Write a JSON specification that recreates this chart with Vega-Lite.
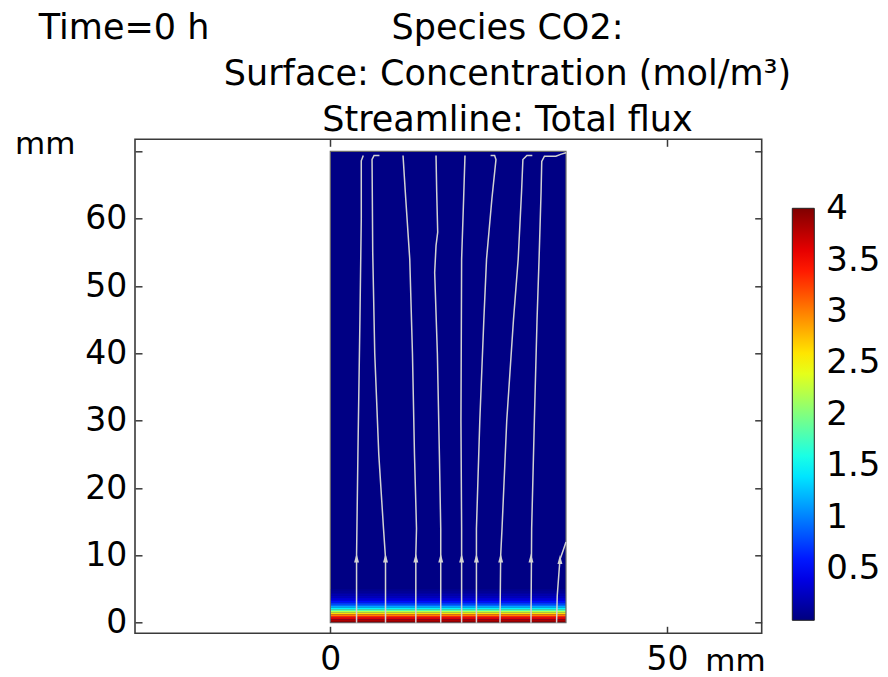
{
  "$schema": "https://vega.github.io/schema/vega-lite/v6.json",
  "autosize": {"type": "none"},
  "padding": {"left": 135, "top": 139.3, "right": 126.3, "bottom": 43.7},
  "width": 626.7,
  "height": 494,
  "background": "white",
  "config": {
    "font": "DejaVu Sans",
    "view": {"stroke": "#3a3a3a", "strokeWidth": 1.6},
    "axis": {
      "domain": false,
      "grid": false,
      "tickSize": -7,
      "tickColor": "#3a3a3a",
      "tickWidth": 1.5,
      "labelFont": "DejaVu Sans",
      "labelFontSize": 33,
      "labelColor": "black",
      "titleFont": "DejaVu Sans",
      "titleFontWeight": "normal",
      "titleColor": "black"
    },
    "legend": {
      "labelFont": "DejaVu Sans",
      "labelFontSize": 34,
      "labelColor": "black"
    }
  },
  "datasets": {
    "cells": [
      {"x0": 0, "x1": 35, "y0": 0, "y1": 70, "c": 0.02, "k": "bg"},
      {"x0": 0, "x1": 35, "y0": 4.75, "y1": 5.0, "c": 0.06, "k": "band"},
      {"x0": 0, "x1": 35, "y0": 4.5, "y1": 4.75, "c": 0.09, "k": "band"},
      {"x0": 0, "x1": 35, "y0": 4.25, "y1": 4.5, "c": 0.13, "k": "band"},
      {"x0": 0, "x1": 35, "y0": 4.0, "y1": 4.25, "c": 0.18, "k": "band"},
      {"x0": 0, "x1": 35, "y0": 3.75, "y1": 4.0, "c": 0.24, "k": "band"},
      {"x0": 0, "x1": 35, "y0": 3.5, "y1": 3.75, "c": 0.32, "k": "band"},
      {"x0": 0, "x1": 35, "y0": 3.25, "y1": 3.5, "c": 0.42, "k": "band"},
      {"x0": 0, "x1": 35, "y0": 3.0, "y1": 3.25, "c": 0.54, "k": "band"},
      {"x0": 0, "x1": 35, "y0": 2.75, "y1": 3.0, "c": 0.7, "k": "band"},
      {"x0": 0, "x1": 35, "y0": 2.5, "y1": 2.75, "c": 0.9, "k": "band"},
      {"x0": 0, "x1": 35, "y0": 2.25, "y1": 2.5, "c": 1.15, "k": "band"},
      {"x0": 0, "x1": 35, "y0": 2.0, "y1": 2.25, "c": 1.46, "k": "band"},
      {"x0": 0, "x1": 35, "y0": 1.75, "y1": 2.0, "c": 1.82, "k": "band"},
      {"x0": 0, "x1": 35, "y0": 1.5, "y1": 1.75, "c": 2.22, "k": "band"},
      {"x0": 0, "x1": 35, "y0": 1.25, "y1": 1.5, "c": 2.62, "k": "band"},
      {"x0": 0, "x1": 35, "y0": 1.0, "y1": 1.25, "c": 3.0, "k": "band"},
      {"x0": 0, "x1": 35, "y0": 0.75, "y1": 1.0, "c": 3.35, "k": "band"},
      {"x0": 0, "x1": 35, "y0": 0.5, "y1": 0.75, "c": 3.62, "k": "band"},
      {"x0": 0, "x1": 35, "y0": 0.25, "y1": 0.5, "c": 3.82, "k": "band"},
      {"x0": 0, "x1": 35, "y0": 0, "y1": 0.25, "c": 3.95, "k": "band"}
    ],
    "streams": [
      {"s": 1, "o": 1, "x": 3.9, "y": 0}, {"s": 1, "o": 2, "x": 3.9, "y": 10}, {"s": 1, "o": 3, "x": 4.1, "y": 25}, {"s": 1, "o": 4, "x": 4.4, "y": 45}, {"s": 1, "o": 5, "x": 4.6, "y": 60}, {"s": 1, "o": 6, "x": 4.6, "y": 68.6}, {"s": 1, "o": 7, "x": 4.9, "y": 69.4},
      {"s": 2, "o": 1, "x": 8.2, "y": 0}, {"s": 2, "o": 2, "x": 8.2, "y": 9.6}, {"s": 2, "o": 3, "x": 7.9, "y": 14}, {"s": 2, "o": 4, "x": 7.2, "y": 25}, {"s": 2, "o": 5, "x": 6.6, "y": 40}, {"s": 2, "o": 6, "x": 6.3, "y": 55}, {"s": 2, "o": 7, "x": 6.2, "y": 68.8}, {"s": 2, "o": 8, "x": 6.5, "y": 69.4}, {"s": 2, "o": 9, "x": 7.3, "y": 69.4},
      {"s": 3, "o": 1, "x": 12.7, "y": 0}, {"s": 3, "o": 2, "x": 12.7, "y": 10}, {"s": 3, "o": 3, "x": 12.8, "y": 14}, {"s": 3, "o": 4, "x": 12.5, "y": 25}, {"s": 3, "o": 5, "x": 12.2, "y": 40}, {"s": 3, "o": 6, "x": 11.8, "y": 54}, {"s": 3, "o": 7, "x": 11.2, "y": 63}, {"s": 3, "o": 8, "x": 10.8, "y": 69.4},
      {"s": 4, "o": 1, "x": 16.4, "y": 0}, {"s": 4, "o": 2, "x": 16.4, "y": 14}, {"s": 4, "o": 3, "x": 16.2, "y": 25}, {"s": 4, "o": 4, "x": 15.9, "y": 40}, {"s": 4, "o": 5, "x": 15.5, "y": 52}, {"s": 4, "o": 6, "x": 15.7, "y": 56}, {"s": 4, "o": 7, "x": 15.95, "y": 58}, {"s": 4, "o": 8, "x": 15.8, "y": 64}, {"s": 4, "o": 9, "x": 15.7, "y": 69.4},
      {"s": 5, "o": 1, "x": 19.5, "y": 0}, {"s": 5, "o": 2, "x": 19.5, "y": 14}, {"s": 5, "o": 3, "x": 19.4, "y": 30}, {"s": 5, "o": 4, "x": 19.5, "y": 54}, {"s": 5, "o": 5, "x": 19.8, "y": 63}, {"s": 5, "o": 6, "x": 20.0, "y": 69.4},
      {"s": 6, "o": 1, "x": 21.7, "y": 0}, {"s": 6, "o": 2, "x": 21.7, "y": 14}, {"s": 6, "o": 3, "x": 22.2, "y": 30}, {"s": 6, "o": 4, "x": 22.8, "y": 45}, {"s": 6, "o": 5, "x": 23.2, "y": 54}, {"s": 6, "o": 6, "x": 24.0, "y": 63}, {"s": 6, "o": 7, "x": 24.6, "y": 68.8}, {"s": 6, "o": 8, "x": 24.4, "y": 69.4}, {"s": 6, "o": 9, "x": 23.8, "y": 69.4},
      {"s": 7, "o": 1, "x": 25.2, "y": 0}, {"s": 7, "o": 2, "x": 25.3, "y": 10}, {"s": 7, "o": 3, "x": 25.5, "y": 14}, {"s": 7, "o": 4, "x": 26.2, "y": 30}, {"s": 7, "o": 5, "x": 27.2, "y": 45}, {"s": 7, "o": 6, "x": 27.9, "y": 54}, {"s": 7, "o": 7, "x": 28.4, "y": 64}, {"s": 7, "o": 8, "x": 28.6, "y": 68.8}, {"s": 7, "o": 9, "x": 29.2, "y": 69.4}, {"s": 7, "o": 10, "x": 30.0, "y": 69.4},
      {"s": 8, "o": 1, "x": 29.8, "y": 0}, {"s": 8, "o": 2, "x": 29.9, "y": 14}, {"s": 8, "o": 3, "x": 30.3, "y": 30}, {"s": 8, "o": 4, "x": 30.7, "y": 45}, {"s": 8, "o": 5, "x": 31.0, "y": 54}, {"s": 8, "o": 6, "x": 31.3, "y": 64}, {"s": 8, "o": 7, "x": 31.4, "y": 68.5}, {"s": 8, "o": 8, "x": 31.8, "y": 69.3}, {"s": 8, "o": 9, "x": 33.5, "y": 69.3}, {"s": 8, "o": 10, "x": 34.3, "y": 69.6}, {"s": 8, "o": 11, "x": 35.0, "y": 69.8},
      {"s": 9, "o": 1, "x": 33.6, "y": 0}, {"s": 9, "o": 2, "x": 33.7, "y": 4}, {"s": 9, "o": 3, "x": 34.1, "y": 9.4}, {"s": 9, "o": 4, "x": 34.6, "y": 10.8}, {"s": 9, "o": 5, "x": 35.0, "y": 12.0}
    ],
    "arrows": [
      {"x": 3.9, "y": 9.6}, {"x": 8.2, "y": 9.6}, {"x": 12.7, "y": 9.6}, {"x": 16.4, "y": 9.6},
      {"x": 19.5, "y": 9.6}, {"x": 21.7, "y": 9.6}, {"x": 25.3, "y": 9.6}, {"x": 29.8, "y": 9.6},
      {"x": 34.1, "y": 9.4}
    ]
  },
  "layer": [
    {
      "data": {"name": "cells"},
      "mark": {"type": "rect"},
      "encoding": {
        "x": {
          "field": "x0", "type": "quantitative",
          "scale": {"domain": [-29.0, 64.06], "nice": false, "zero": false},
          "axis": {
            "orient": "bottom", "values": [0, 50],
            "labelBaseline": "middle", "labelPadding": 32.7,
            "title": "mm", "titleFontSize": 31, "titleX": 600, "titleY": 27.7,
            "titleAlign": "center", "titleAnchor": null, "titleBaseline": "middle", "titleAngle": 0
          }
        },
        "x2": {"field": "x1"},
        "y": {
          "field": "y0", "type": "quantitative",
          "scale": {"domain": [-1.57, 71.8], "nice": false, "zero": false},
          "axis": {
            "orient": "left", "values": [0, 10, 20, 30, 40, 50, 60, 70],
            "labelExpr": "datum.value == 70 ? '' : datum.label",
            "labelBaseline": "middle", "labelPadding": 15.3,
            "title": "mm", "titleFontSize": 31, "titleX": -90.3, "titleY": 5.1,
            "titleAlign": "center", "titleAnchor": null, "titleBaseline": "middle", "titleAngle": 0
          }
        },
        "y2": {"field": "y1"},
        "color": {
          "field": "c", "type": "quantitative",
          "scale": {
            "type": "linear",
            "domain": [0, 0.5, 1.5, 2.5, 3.5, 4.01],
            "range": ["#00007f", "#0000ff", "#00ffff", "#ffff00", "#ff0000", "#7f0000"],
            "interpolate": "rgb"
          },
          "legend": {
            "type": "gradient",
            "orient": "none", "legendX": 657.3, "legendY": 69,
            "direction": "vertical", "title": null, "padding": 0,
            "gradientLength": 412, "gradientThickness": 22,
            "gradientStrokeColor": "#222", "gradientStrokeWidth": 1,
            "values": [0.5, 1, 1.5, 2, 2.5, 3, 3.5, 4],
            "format": "~g", "labelOffset": 12, "labelFlush": false, "labelOverlap": false,
            "labelBaseline": "middle"
          }
        }
      }
    },
    {
      "data": {"name": "cells"},
      "transform": [{"filter": "datum.k == 'bg'"}],
      "mark": {"type": "rect", "fill": null, "fillOpacity": 0, "stroke": "#6a6a6a", "strokeWidth": 1.2},
      "encoding": {
        "x": {"field": "x0", "type": "quantitative", "axis": null},
        "x2": {"field": "x1"},
        "y": {"field": "y0", "type": "quantitative", "axis": null},
        "y2": {"field": "y1"}
      }
    },
    {
      "data": {"name": "streams"},
      "mark": {"type": "line", "color": "#d2d2d2", "strokeWidth": 1.5},
      "encoding": {
        "x": {
          "field": "x", "type": "quantitative",
          "axis": {
            "orient": "top", "values": [0, 50], "labels": false,
            "title": ["Species CO2:", "Surface: Concentration (mol/m³)", "Streamline: Total flux"],
            "titleFontSize": 35, "titleLineHeight": 46,
            "titleX": 372, "titleY": -101, "titleAlign": "center", "titleAnchor": null,
            "titleBaseline": "alphabetic", "titleAngle": 0
          }
        },
        "y": {
          "field": "y", "type": "quantitative",
          "axis": {
            "orient": "right", "values": [0, 10, 20, 30, 40, 50, 60, 70], "labels": false,
            "title": "Time=0 h", "titleFontSize": 35,
            "titleX": -723.4, "titleY": -101, "titleAlign": "left", "titleAnchor": null,
            "titleBaseline": "alphabetic", "titleAngle": 0
          }
        },
        "detail": {"field": "s", "type": "nominal"},
        "order": {"field": "o", "type": "quantitative"}
      }
    },
    {
      "data": {"name": "arrows"},
      "mark": {"type": "point", "shape": "M-0.55,1L0,-1L0.55,1Z", "size": 81, "filled": true, "color": "#d2d2d2", "opacity": 1},
      "encoding": {
        "x": {"field": "x", "type": "quantitative", "axis": null},
        "y": {"field": "y", "type": "quantitative", "axis": null}
      }
    }
  ]
}
